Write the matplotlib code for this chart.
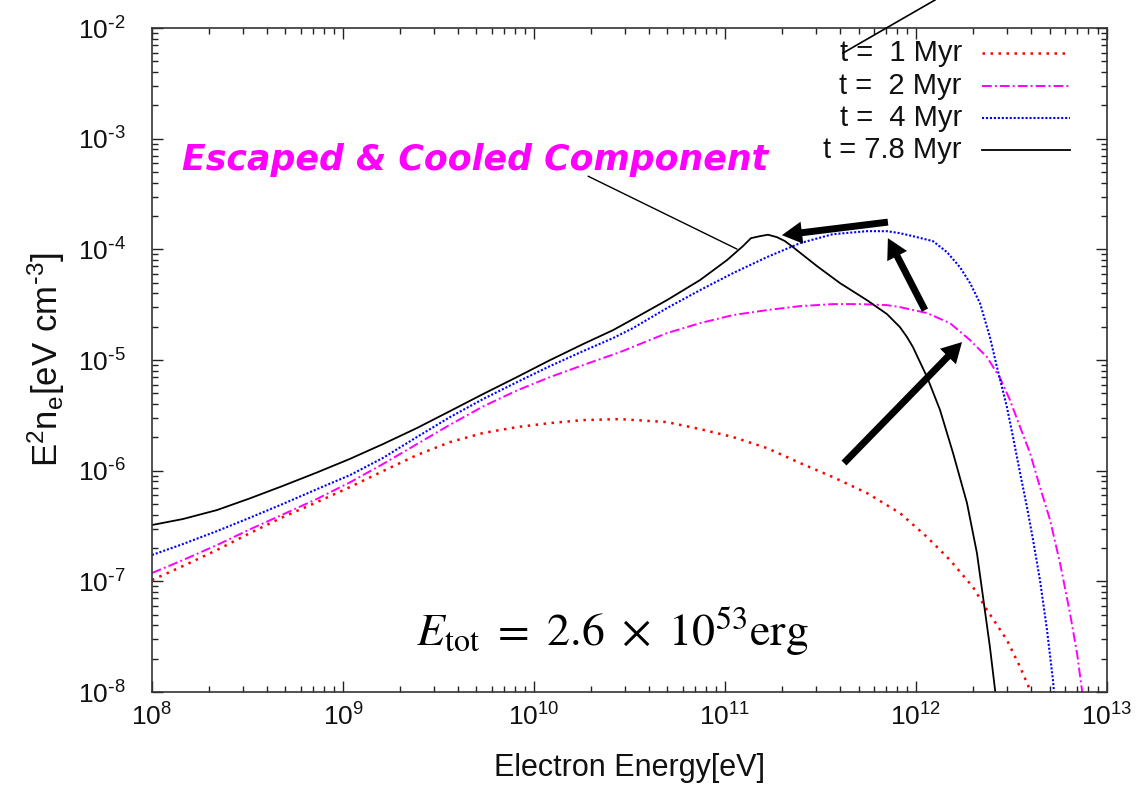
import numpy as np
import matplotlib
matplotlib.use("Agg")
import matplotlib.pyplot as plt
from matplotlib.ticker import LogLocator, FuncFormatter, NullFormatter
from matplotlib.lines import Line2D

plt.rcParams['font.family'] = ['Liberation Sans', 'DejaVu Sans']

# ---- data (log10 of electron energy [eV] and log10 of E^2 n_e [eV cm^-3]) ----
logE_t1 = [8.0, 8.162, 8.340, 8.513, 8.686, 8.864, 9.037, 9.209, 9.387, 9.560, 9.733,
           9.911, 10.084, 10.257, 10.450, 10.696, 10.869, 11.042, 11.220, 11.393, 11.565,
           11.743, 11.916, 12.058, 12.178, 12.298, 12.372, 12.476, 12.545, 12.597, 12.62]
logN_t1 = [-6.988, -6.862, -6.717, -6.564, -6.419, -6.284, -6.148, -6.004, -5.859, -5.742, -5.660,
           -5.606, -5.570, -5.543, -5.534, -5.561, -5.624, -5.696, -5.796, -5.931, -6.058,
           -6.202, -6.383, -6.600, -6.808, -7.051, -7.259, -7.530, -7.774, -7.982, -8.15]

logE_t2 = [8.0, 8.162, 8.340, 8.513, 8.686, 8.864, 9.037, 9.209, 9.387, 9.560, 9.733, 9.911,
           10.084, 10.257, 10.450, 10.696, 10.869, 11.042, 11.220, 11.393, 11.565, 11.707,
           11.848, 11.916, 12.058, 12.178, 12.283, 12.372, 12.440, 12.492, 12.545, 12.597,
           12.649, 12.702, 12.754, 12.806, 12.843, 12.869, 12.88]
logN_t2 = [-6.925, -6.808, -6.672, -6.530, -6.395, -6.255, -6.105, -5.940, -5.760, -5.585, -5.420, -5.275,
           -5.154, -5.046, -4.929, -4.757, -4.667, -4.594, -4.549, -4.513, -4.495, -4.495,
           -4.504, -4.522, -4.576, -4.667, -4.820, -4.974, -5.163, -5.362, -5.606, -5.841,
           -6.148, -6.446, -6.835, -7.286, -7.648, -7.982, -8.15]

logE_t4 = [8.0, 8.162, 8.340, 8.513, 8.686, 8.864, 9.037, 9.209, 9.387, 9.560, 9.733, 9.911,
           10.084, 10.257, 10.414, 10.518, 10.696, 10.869, 11.042, 11.220, 11.393, 11.565,
           11.743, 11.848, 11.916, 11.984, 12.089, 12.162, 12.230, 12.283, 12.335, 12.387,
           12.424, 12.476, 12.508, 12.545, 12.581, 12.613, 12.649, 12.686, 12.717, 12.73]
logN_t4 = [-6.762, -6.663, -6.546, -6.425, -6.300, -6.167, -6.040, -5.885, -5.696, -5.516, -5.353, -5.200,
           -5.055, -4.920, -4.802, -4.712, -4.531, -4.369, -4.215, -4.070, -3.944, -3.863,
           -3.836, -3.836, -3.854, -3.881, -3.926, -4.025, -4.161, -4.305, -4.486, -4.793,
           -5.064, -5.425, -5.696, -6.022, -6.329, -6.627, -6.988, -7.440, -7.892, -8.15]

logE_t78 = [8.0, 8.162, 8.340, 8.513, 8.686, 8.864, 9.037, 9.209, 9.387, 9.560, 9.733, 9.911,
            10.084, 10.257, 10.414, 10.518, 10.696, 10.869, 11.010, 11.094, 11.136, 11.183,
            11.225, 11.272, 11.314, 11.356, 11.482, 11.602, 11.743, 11.848, 11.916, 11.953,
            11.984, 12.021, 12.058, 12.089, 12.126, 12.194, 12.267, 12.319, 12.351, 12.387,
            12.414, 12.42]
logN_t78 = [-6.491, -6.437, -6.356, -6.250, -6.137, -6.016, -5.893, -5.760, -5.615, -5.462, -5.308, -5.154,
            -5.001, -4.856, -4.730, -4.631, -4.459, -4.278, -4.098, -3.971, -3.899, -3.881,
            -3.868, -3.890, -3.926, -3.980, -4.152, -4.305, -4.459, -4.585, -4.703, -4.793,
            -4.883, -5.019, -5.154, -5.290, -5.453, -5.841, -6.293, -6.744, -7.142, -7.593,
            -7.982, -8.15]

labels = ['t =  1 Myr', 't =  2 Myr', 't =  4 Myr', 't = 7.8 Myr']
colors = ['#ff0000', '#ff00ff', '#0000ff', '#000000']
styles = [(0, (1, 2.2)), (0, (5, 1.6, 1, 1.6)), (0, (1, 0.9)), '-']
widths = [1.8, 1.4, 1.5, 1.3]

series = [(logE_t1, logN_t1), (logE_t2, logN_t2), (logE_t4, logN_t4), (logE_t78, logN_t78)]

fig = plt.figure(figsize=(11.4, 7.87), dpi=100)
ax = fig.add_axes([0.13333, 0.12071, 0.83772, 0.84371])
ax.set_xscale('log')
ax.set_yscale('log')
ax.set_xlim(1e8, 1e13)
ax.set_ylim(1e-8, 1e-2)

for (lx, ly), c, ls, lw in zip(series, colors, styles, widths):
    ax.plot(10 ** np.array(lx), 10 ** np.array(ly), color=c, linestyle=ls, linewidth=lw)

def pow10(v, pos):
    e = int(round(np.log10(v)))
    if e < 0:
        return r'$\mathregular{10^{\text{-}%d}}$' % (-e)
    return r'$\mathregular{10^{%d}}$' % e

for axis in (ax.xaxis, ax.yaxis):
    axis.set_major_locator(LogLocator(base=10, numticks=20))
    axis.set_minor_locator(LogLocator(base=10, subs=np.arange(2, 10), numticks=20))
    axis.set_major_formatter(FuncFormatter(pow10))
    axis.set_minor_formatter(NullFormatter())
ax.tick_params(which='both', direction='in', top=True, right=True, colors='#222222',
               labelcolor='#111111', labelsize=19)
ax.tick_params(which='major', length=8, width=1.0)
ax.tick_params(which='minor', length=4, width=1.0)
ax.tick_params(axis='x', pad=8)
ax.tick_params(axis='y', pad=19)
for s in ax.spines.values():
    s.set_linewidth(1.2)
    s.set_color('#333333')

ax.set_xlabel('Electron Energy[eV]', fontsize=22, labelpad=16, color='#111111')
ax.set_ylabel(r'$\mathregular{E^2n_e[eV\ cm^{\text{-}3}]}$', fontsize=25, labelpad=8,
              color='#111111')

# legend drawn in gnuplot style: right-aligned text, line sample to the right
ys = [0.962, 0.913, 0.865, 0.816]
for lab, c, ls, lw, yy in zip(labels, colors, styles, widths, ys):
    ax.text(0.848, yy, lab, transform=ax.transAxes, ha='right', va='center', fontsize=21,
            color='#111111')
    ax.add_line(Line2D([0.869, 0.961], [yy, yy], transform=ax.transAxes, color=c,
                       linestyle=ls, linewidth=lw))

# annotation text and pointer line
fig.text(0.160, 0.797, 'Escaped & Cooled Component', color='#ff00ff', fontsize=25,
         fontweight='bold', fontstyle='italic', family='DejaVu Sans', va='center', ha='left')
ax.annotate('', xy=(10 ** 11.063, 10 ** -3.998), xytext=(10 ** 10.283, 10 ** -3.339),
            arrowprops=dict(arrowstyle='-', lw=1.0, color='black', shrinkA=0, shrinkB=0),
            annotation_clip=False)

# thick arrows
arrow_style = 'simple,head_length=1.45,head_width=1.6,tail_width=0.5'
arrows = [((11.853, -3.754), (11.298, -3.872)),
          ((12.047, -4.549), (11.853, -3.899)),
          ((11.623, -5.931), (12.241, -4.838))]
for (tx, ty), (hx, hy) in arrows:
    ax.annotate('', xy=(10 ** hx, 10 ** hy), xytext=(10 ** tx, 10 ** ty),
                arrowprops=dict(arrowstyle=arrow_style, mutation_scale=10, fc='black',
                                ec='none', shrinkA=0, shrinkB=0))

# total energy label
fig.text(0.709, 0.179, r'$E_{\mathrm{tot}}\ =\ 2.6\ \times\ 10^{53}\mathrm{erg}$', fontsize=33,
         math_fontfamily='stix', ha='right', va='baseline', color='black')

# stray pointer line at top (from slide)
fig.add_artist(Line2D([843 / 1140, 935 / 1140], [1 - 53 / 787, 1.0], transform=fig.transFigure,
                      color='black', linewidth=1.2))

fig.savefig('out.png', dpi=100)
